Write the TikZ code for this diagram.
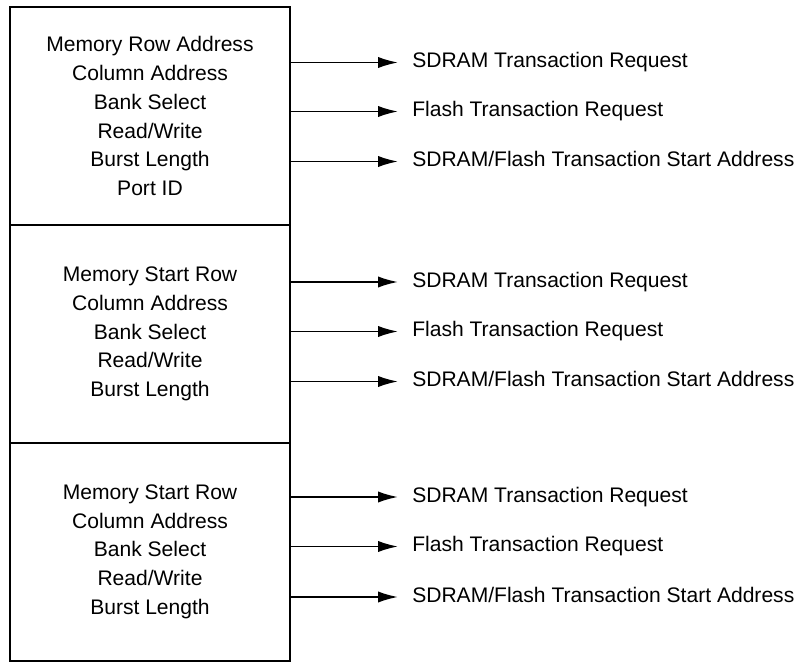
\documentclass[tikz,border=0pt]{standalone}
\usepackage{fontspec}
\setmainfont{Liberation Sans}
\usetikzlibrary{arrows.meta}

\tikzset{
  sect/.style={draw,line width=1.6pt,minimum width=210pt,minimum height=163.4pt,
    align=center,inner sep=0pt,font=\fontsize{15.8pt}{21.6pt}\selectfont},
  outlbl/.style={anchor=west,inner xsep=10.5pt,inner ysep=0pt,text height=11.3pt,
    text depth=3.3pt,font=\fontsize{15.8pt}{21.6pt}\selectfont},
  sig/.style={line width=1.4pt,-{Latex[length=15pt,width=8.5pt]}}
}

\begin{document}
\begin{tikzpicture}[x=0.75pt,y=-0.75pt]
    \useasboundingbox (0,0) rectangle (804,663);
    % register sections
    \node[sect] (secA) at (150,116.2) {Memory Row Address\\Column Address\\Bank Select\\Read/Write\\Burst Length\\Port ID};
    \node[sect] (secB) at (150,334) {Memory Start Row\\Column Address\\Bank Select\\Read/Write\\Burst Length};
    \node[sect] (secC) at (150,551.8) {Memory Start Row\\Column Address\\Bank Select\\Read/Write\\Burst Length};
    % outputs
    \node[outlbl] (reqA1) at (398,62.5) {SDRAM Transaction Request};
    \node[outlbl] (reqA2) at (398,111.5) {Flash Transaction Request};
    \node[outlbl] (reqA3) at (398,161.5) {SDRAM/Flash Transaction Start Address};
    \node[outlbl] (reqB1) at (398,282) {SDRAM Transaction Request};
    \node[outlbl] (reqB2) at (398,331.5) {Flash Transaction Request};
    \node[outlbl] (reqB3) at (398,381.5) {SDRAM/Flash Transaction Start Address};
    \node[outlbl] (reqC1) at (398,497) {SDRAM Transaction Request};
    \node[outlbl] (reqC2) at (398,546.5) {Flash Transaction Request};
    \node[outlbl] (reqC3) at (398,597) {SDRAM/Flash Transaction Start Address};
    \draw[sig] (secA.east |- reqA1) -- (reqA1);
    \draw[sig] (secA.east |- reqA2) -- (reqA2);
    \draw[sig] (secA.east |- reqA3) -- (reqA3);
    \draw[sig] (secB.east |- reqB1) -- (reqB1);
    \draw[sig] (secB.east |- reqB2) -- (reqB2);
    \draw[sig] (secB.east |- reqB3) -- (reqB3);
    \draw[sig] (secC.east |- reqC1) -- (reqC1);
    \draw[sig] (secC.east |- reqC2) -- (reqC2);
    \draw[sig] (secC.east |- reqC3) -- (reqC3);
\end{tikzpicture}
\end{document}
